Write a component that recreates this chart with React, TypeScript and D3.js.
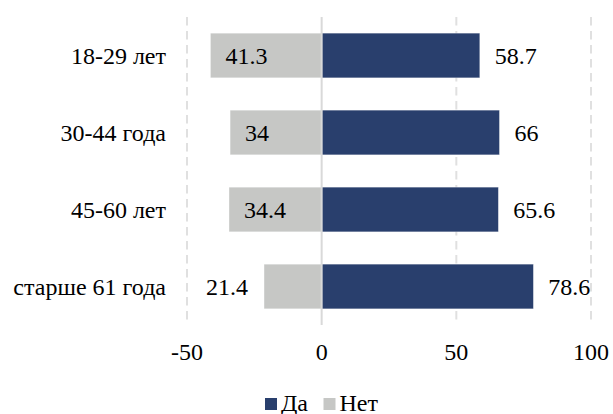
import React from "react";
import * as d3 from "d3";

// Survey answers by age group (percent)
const categories = ["18-29 лет", "30-44 года", "45-60 лет", "старше 61 года"];
const yesValues = [58.7, 66, 65.6, 78.6];
const noValues = [41.3, 34, 34.4, 21.4];
const xTicks = [-50, 0, 50, 100];
const seriesNames = ["Да", "Нет"];

const YES_COLOR = "#293f6d";
const NO_COLOR = "#c6c7c5";
const GRID_COLOR = "#e0e0e0";
const FONT = "Liberation Serif";
const FS = 24;

const W = 613;
const H = 414;
const plot = { left: 187, right: 591, top: 17, bottom: 325 };

function Label(props: {
  x: number;
  y: number;
  anchor?: "start" | "middle" | "end";
  children: React.ReactNode;
}) {
  return (
    <text
      x={props.x}
      y={props.y}
      textAnchor={props.anchor ?? "start"}
      fontFamily={FONT}
      fontSize={FS}
      fill="#000"
    >
      {props.children}
    </text>
  );
}

export default function App() {
  const x = d3.scaleLinear().domain([-50, 100]).range([plot.left, plot.right]);
  const y = d3
    .scaleBand<string>()
    .domain(categories)
    .range([plot.top, plot.bottom])
    .paddingInner(0.42)
    .paddingOuter(0.21);
  const bw = y.bandwidth();
  const x0 = x(0);

  return (
    <svg
      width={W}
      height={H}
      style={{ position: "absolute", left: 0, top: 0, background: "#fff" }}
    >
      {/* vertical gridlines */}
      {xTicks
        .filter((t) => t !== 0)
        .map((t) => (
          <line
            key={t}
            x1={x(t)}
            x2={x(t)}
            y1={plot.top}
            y2={plot.bottom}
            stroke={GRID_COLOR}
            strokeWidth={2}
            strokeDasharray="8.5 5.5"
          />
        ))}

      {/* bars */}
      {categories.map((c, i) => {
        const yy = y(c)!;
        return (
          <g key={c}>
            <rect
              x={x(-noValues[i])}
              y={yy}
              width={x0 - x(-noValues[i])}
              height={bw}
              fill={NO_COLOR}
              stroke="#fff"
              strokeOpacity={0.5}
              strokeWidth={0.7}
            />
            <rect
              x={x0}
              y={yy}
              width={x(yesValues[i]) - x0}
              height={bw}
              fill={YES_COLOR}
              stroke="#fff"
              strokeOpacity={0.4}
              strokeWidth={0.7}
            />
          </g>
        );
      })}

      {/* zero line */}
      <line x1={x0} x2={x0} y1={plot.top} y2={plot.bottom} stroke="#d9d9d9" strokeWidth={2} />

      {/* value labels */}
      {categories.map((c, i) => {
        const cy = y(c)! + bw / 2 + 8;
        const noX = x(-noValues[i]);
        const inside = noValues[i] > 30;
        return (
          <g key={c}>
            <Label x={x(yesValues[i]) + 15} y={cy}>
              {yesValues[i]}
            </Label>
            <Label x={inside ? noX + 15 : noX - 16} y={cy} anchor={inside ? "start" : "end"}>
              {noValues[i]}
            </Label>
          </g>
        );
      })}

      {/* category labels */}
      {categories.map((c) => (
        <Label key={c} x={plot.left - 21} y={y(c)! + bw / 2 + 8} anchor="end">
          {c}
        </Label>
      ))}

      {/* x tick labels */}
      {xTicks.map((t) => (
        <Label key={t} x={x(t)} y={360} anchor="middle">
          {t}
        </Label>
      ))}

      {/* legend */}
      <rect x={265} y={398} width={12} height={12} fill={YES_COLOR} />
      <Label x={281} y={410.5}>{seriesNames[0]}</Label>
      <rect x={323.5} y={398} width={12} height={12} fill={NO_COLOR} />
      <Label x={339.5} y={410.5}>{seriesNames[1]}</Label>
    </svg>
  );
}
